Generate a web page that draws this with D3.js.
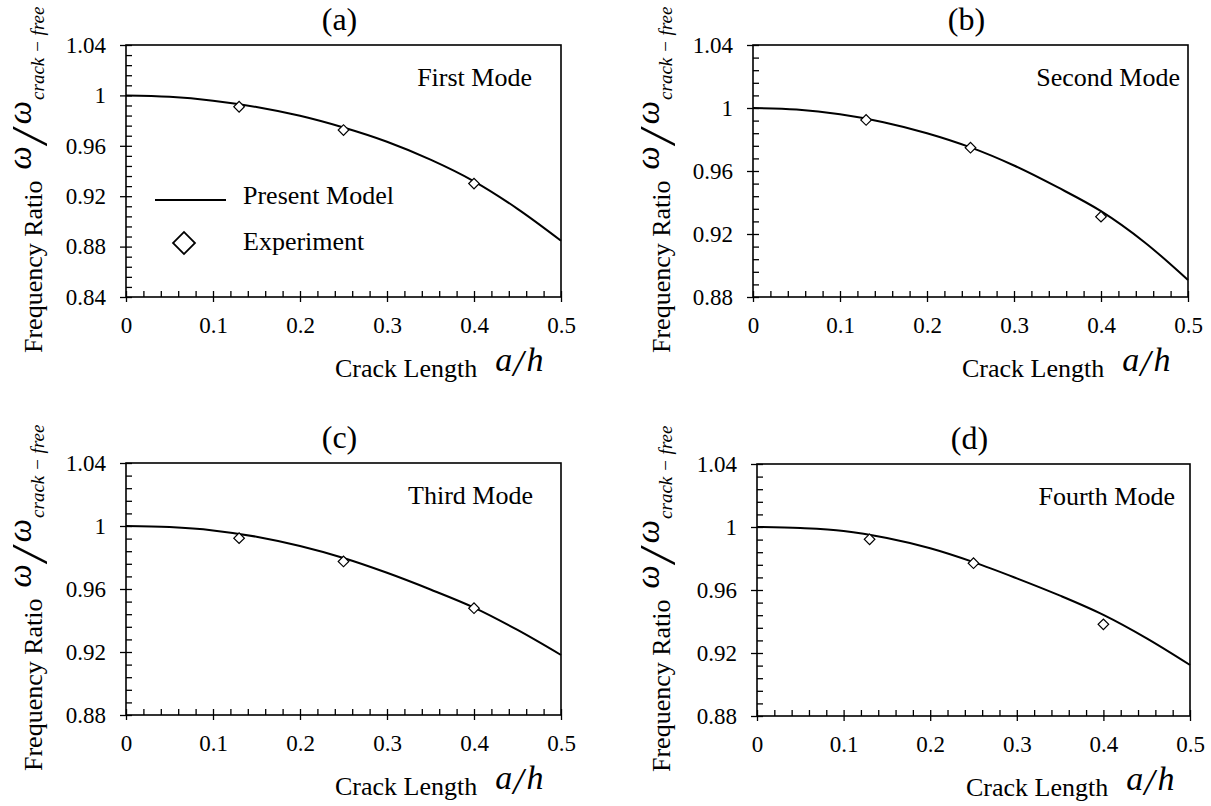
<!DOCTYPE html>
<html>
<head>
<meta charset="utf-8">
<script src="https://cdn.jsdelivr.net/npm/d3@7"></script>
<style>
body { margin: 0; background: #fff; }
text { font-family: "Liberation Serif", "Times New Roman", serif; fill: #000; }
</style>
</head>
<body>
<div id="chart"></div>
<script>
var crackLength = [0, 0.05, 0.1, 0.15, 0.2, 0.25, 0.3, 0.35, 0.4, 0.45, 0.5];
var modelFirst  = [1.0000, 0.9989, 0.9958, 0.9908, 0.9838, 0.9745, 0.9632, 0.9490, 0.9318, 0.9100, 0.8847];
var modelSecond = [1.0000, 0.9990, 0.9960, 0.9910, 0.9840, 0.9750, 0.9635, 0.9497, 0.9345, 0.9148, 0.8908];
var modelThird  = [1.0000, 0.9993, 0.9972, 0.9932, 0.9873, 0.9797, 0.9703, 0.9597, 0.9482, 0.9340, 0.9181];
var modelFourth = [1.0000, 0.9993, 0.9975, 0.9930, 0.9865, 0.9777, 0.9674, 0.9564, 0.9442, 0.9293, 0.9124];

// experiment points
var expCrack  = [0.13, 0.25, 0.4];
var expFirst  = [0.991, 0.9725, 0.930];
var expSecond = [0.9924, 0.9748, 0.931];
var expThird  = [0.9923, 0.9775, 0.9478];
var expFourth = [0.9922, 0.977, 0.9382];

var panelTitles = ["(a)", "(b)", "(c)", "(d)"];
var modeNames = ["First Mode", "Second Mode", "Third Mode", "Fourth Mode"];
var legendNames = ["Present Model", "Experiment"];
var xTicks = [0, 0.1, 0.2, 0.3, 0.4, 0.5];
var yTicksFirst = [0.84, 0.88, 0.92, 0.96, 1, 1.04];
var yTicksOther = [0.88, 0.92, 0.96, 1, 1.04];

var serif = '"Liberation Serif", "Times New Roman", serif';

var svg = d3.select("#chart").append("svg")
    .attr("width", 1211)
    .attr("height", 806);

// plot boxes of the four panels
var panels = [
    {left: 126, right: 561, top: 45, bottom: 297, ticks: yTicksFirst, model: modelFirst, exp: expFirst, modeRight: 532, labelX: 42},
    {left: 753, right: 1188, top: 45, bottom: 297, ticks: yTicksOther, model: modelSecond, exp: expSecond, modeRight: 1180, labelX: 670},
    {left: 126, right: 561, top: 463, bottom: 715, ticks: yTicksOther, model: modelThird, exp: expThird, modeRight: 533, labelX: 42},
    {left: 757, right: 1190, top: 464, bottom: 716, ticks: yTicksOther, model: modelFourth, exp: expFourth, modeRight: 1175, labelX: 670}
];

function styleAxis(sel) {
    sel.select(".domain").remove();
    sel.selectAll("line").attr("stroke", "#000").attr("stroke-width", 1.3);
    sel.attr("font-size", 23).attr("font-family", serif);
}

panels.forEach(function (p, i) {
    var yDom = d3.extent(p.ticks);
    var x = d3.scaleLinear().domain([0, 0.5]).range([p.left, p.right]);
    var y = d3.scaleLinear().domain(yDom).range([p.bottom, p.top]);
    var g = svg.append("g");

    var yMinor = d3.range(0, Math.round((yDom[1] - yDom[0]) / 0.008) + 1).map(function (k) { return yDom[0] + k * 0.008; });
    var xMinor = d3.range(0, 26).map(function (k) { return k * 0.02; });

    // inside ticks (minor + major)
    g.append("g")
        .attr("transform", "translate(" + p.left + ",0)")
        .call(d3.axisLeft(y).tickValues(yMinor).tickSize(-6).tickSizeOuter(0).tickFormat(""))
        .call(styleAxis);
    g.append("g")
        .attr("transform", "translate(0," + p.bottom + ")")
        .call(d3.axisBottom(x).tickValues(xMinor).tickSize(-6).tickSizeOuter(0).tickFormat(""))
        .call(styleAxis);

    // major ticks poking out, with labels
    g.append("g")
        .attr("transform", "translate(" + p.left + ",0)")
        .call(d3.axisLeft(y).tickValues(p.ticks).tickSize(6).tickSizeOuter(0).tickPadding(14).tickFormat(d3.format("~g")))
        .call(styleAxis);
    g.append("g")
        .attr("transform", "translate(0," + p.bottom + ")")
        .call(d3.axisBottom(x).tickValues(xTicks).tickSize(5).tickSizeOuter(0).tickPadding(15).tickFormat(d3.format("~g")))
        .call(styleAxis);

    // frame
    g.append("rect")
        .attr("x", p.left).attr("y", p.top)
        .attr("width", p.right - p.left).attr("height", p.bottom - p.top)
        .attr("fill", "none").attr("stroke", "#000").attr("stroke-width", 1.6);

    // model curve
    var line = d3.line()
        .x(function (d, k) { return x(crackLength[k]); })
        .y(function (d) { return y(d); })
        .curve(d3.curveCatmullRom);
    g.append("path")
        .attr("d", line(p.model))
        .attr("fill", "none").attr("stroke", "#000").attr("stroke-width", 2);

    // experiment diamonds
    g.selectAll(".dot")
        .data(p.exp)
        .enter().append("path")
        .attr("d", d3.symbol().type(d3.symbolSquare).size(56))
        .attr("transform", function (d, k) { return "translate(" + x(expCrack[k]) + "," + y(d) + ") rotate(45)"; })
        .attr("fill", "#fff").attr("stroke", "#000").attr("stroke-width", 1.2);

    // title and mode name
    g.append("text")
        .attr("x", (p.left + p.right) / 2 - 4).attr("y", p.top - 15)
        .attr("text-anchor", "middle").attr("font-size", 32)
        .text(panelTitles[i]);
    g.append("text")
        .attr("x", p.modeRight).attr("y", p.top + 41)
        .attr("text-anchor", "end").attr("font-size", 26)
        .text(modeNames[i]);

    // x label  Crack Length a/h
    var xl = g.append("text")
        .attr("x", p.left + 209).attr("y", p.bottom + 80)
        .attr("font-size", 26);
    xl.append("tspan").text("Crack Length");
    xl.append("tspan").attr("dx", 18).attr("dy", -6).attr("font-size", 34).attr("font-style", "italic").text("a");
    xl.append("tspan").attr("dx", 1).attr("dy", 5).attr("font-size", 37).attr("font-style", "italic").text("/");
    xl.append("tspan").attr("dx", 3).attr("dy", -5).attr("font-size", 34).attr("font-style", "italic").text("h");

    // y label  Frequency Ratio w/w_crack-free
    var yl = g.append("text")
        .attr("transform", "translate(" + p.labelX + "," + (p.bottom + 56) + ") rotate(-90)")
        .attr("font-size", 26);
    yl.append("tspan").text("Frequency Ratio");
    yl.append("tspan").attr("dx", 11).attr("dy", -11).attr("font-size", 33).attr("font-style", "italic").text("ω");
    yl.append("tspan").attr("dx", 2).attr("dy", 15).attr("font-size", 50).attr("font-style", "italic").text("/");
    yl.append("tspan").attr("dx", 6).attr("dy", -15).attr("font-size", 33).attr("font-style", "italic").text("ω");
    yl.append("tspan").attr("dx", 1).attr("dy", 13).attr("font-size", 19).attr("font-style", "italic").text("crack − free");

    // legend only in first panel
    if (i == 0) {
        g.append("line")
            .attr("x1", p.left + 29).attr("x2", p.left + 100)
            .attr("y1", p.top + 155).attr("y2", p.top + 155)
            .attr("stroke", "#000").attr("stroke-width", 2.2);
        g.append("path")
            .attr("d", d3.symbol().type(d3.symbolSquare).size(240))
            .attr("transform", "translate(" + (p.left + 58) + "," + (p.top + 198) + ") rotate(45)")
            .attr("fill", "#fff").attr("stroke", "#000").attr("stroke-width", 1.8);
        g.append("text").attr("x", p.left + 117).attr("y", p.top + 159).attr("font-size", 26).text(legendNames[0]);
        g.append("text").attr("x", p.left + 117).attr("y", p.top + 205).attr("font-size", 26).text(legendNames[1]);
    }
});
</script>
</body>
</html>
